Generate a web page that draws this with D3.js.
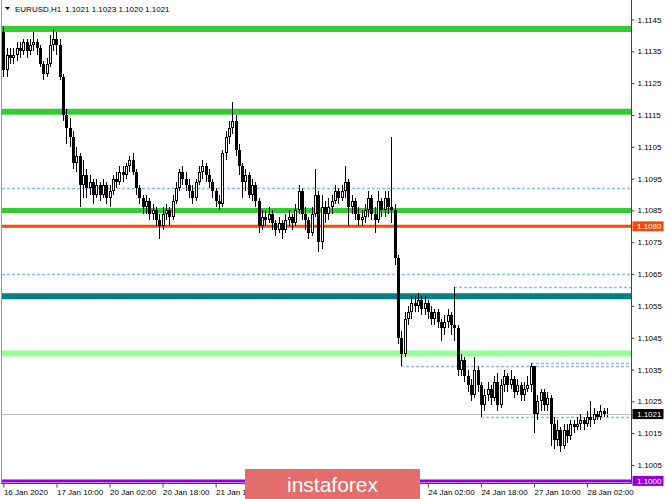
<!DOCTYPE html>
<html><head><meta charset="utf-8">
<script src="https://cdn.jsdelivr.net/npm/d3@7"></script>
<style>
body{margin:0;background:#fff}
svg{display:block}
text{font-family:"Liberation Sans",Arial,sans-serif}
</style>
</head><body><svg id="c" width="665" height="499"></svg>
<script>
const symbol = "EURUSD,H1";
const opens = [1.1141,1.1129,1.1134,1.1133,1.1134,1.1136,1.1135,1.1138,1.1135,1.1137,
1.1138,1.1136,1.1131,1.1128,1.1131,1.1137,1.1139,1.1137,1.1127,1.1115,
1.1111,1.1108,1.1100,1.1102,1.1093,1.1096,1.1092,1.1094,1.1090,1.1093,
1.1090,1.1093,1.1089,1.1091,1.1095,1.1094,1.1097,1.1096,1.1099,1.1101,
1.1097,1.1092,1.1089,1.1086,1.1088,1.1084,1.1085,1.1082,1.1080,1.1084,
1.1085,1.1083,1.1088,1.1092,1.1097,1.1095,1.1093,1.1091,1.1089,1.1094,
1.1097,1.1099,1.1096,1.1094,1.1091,1.1088,1.1087,1.1103,1.1108,1.1111,
1.1113,1.1104,1.1099,1.1094,1.1096,1.1090,1.1093,1.1088,1.1080,1.1083,
1.1082,1.1084,1.1081,1.1079,1.1081,1.1079,1.1082,1.1083,1.1081,1.1085,
1.1091,1.1084,1.1082,1.1078,1.1084,1.1090,1.1075,1.1086,1.1084,1.1086,
1.1088,1.1091,1.1089,1.1091,1.1094,1.1086,1.1088,1.1084,1.1082,1.1083,
1.1085,1.1089,1.1084,1.1082,1.1088,1.1085,1.1089,1.1086,1.1085,1.1070,
1.1045,1.1040,1.1051,1.1053,1.1056,1.1055,1.1057,1.1054,1.1056,1.1053,
1.1051,1.1053,1.1050,1.1048,1.1050,1.1052,1.1049,1.1048,1.1035,1.1038,
1.1033,1.1030,1.1027,1.1035,1.1030,1.1024,1.1027,1.1029,1.1026,1.1031,
1.1024,1.1030,1.1033,1.1030,1.1032,1.1028,1.1030,1.1027,1.1029,1.1030,
1.1036,1.1021,1.1025,1.1028,1.1024,1.1026,1.1018,1.1013,1.1016,1.1011,
1.1016,1.1014,1.1018,1.1017,1.1018,1.1019,1.1018,1.1020,1.1019,1.1021,
1.1020,1.1022,1.1021];
const highs = [1.1143,1.1136,1.1136,1.1136,1.1138,1.1138,1.1139,1.1139,1.1139,1.1141,
1.1139,1.1137,1.1132,1.1133,1.1140,1.1142,1.1141,1.1139,1.1128,1.1117,
1.1114,1.1110,1.1105,1.1103,1.1101,1.1098,1.1096,1.1095,1.1095,1.1094,
1.1095,1.1094,1.1093,1.1096,1.1097,1.1099,1.1099,1.1100,1.1102,1.1103,
1.1098,1.1093,1.1090,1.1090,1.1089,1.1087,1.1086,1.1084,1.1086,1.1087,
1.1086,1.1090,1.1094,1.1098,1.1099,1.1097,1.1095,1.1093,1.1095,1.1099,
1.1101,1.1100,1.1098,1.1095,1.1092,1.1090,1.1104,1.1110,1.1113,1.1119,
1.1115,1.1106,1.1100,1.1098,1.1097,1.1095,1.1094,1.1089,1.1085,1.1085,
1.1086,1.1085,1.1082,1.1083,1.1082,1.1084,1.1085,1.1084,1.1087,1.1093,
1.1092,1.1086,1.1083,1.1086,1.1098,1.1091,1.1090,1.1088,1.1089,1.1090,
1.1093,1.1092,1.1093,1.1099,1.1095,1.1090,1.1089,1.1086,1.1085,1.1087,
1.1091,1.1090,1.1086,1.1091,1.1089,1.1091,1.1091,1.1108,1.1087,1.1071,
1.1047,1.1053,1.1055,1.1058,1.1058,1.1059,1.1058,1.1058,1.1057,1.1055,
1.1054,1.1054,1.1051,1.1052,1.1054,1.1053,1.1061,1.1049,1.1040,1.1039,
1.1035,1.1032,1.1039,1.1036,1.1031,1.1029,1.1031,1.1030,1.1033,1.1034,
1.1032,1.1035,1.1034,1.1035,1.1033,1.1032,1.1031,1.1031,1.1033,1.1037,
1.1036,1.1027,1.1029,1.1029,1.1028,1.1027,1.1020,1.1019,1.1017,1.1018,
1.1018,1.1019,1.1019,1.1020,1.1021,1.1020,1.1022,1.1025,1.1023,1.1022,
1.1024,1.1023,1.1023];
const lows = [1.1127,1.1127,1.1131,1.1131,1.1132,1.1133,1.1134,1.1133,1.1134,1.1135,
1.1134,1.1130,1.1126,1.1127,1.1130,1.1135,1.1134,1.1126,1.1113,1.1106,
1.1105,1.1098,1.1097,1.1086,1.1089,1.1089,1.1090,1.1087,1.1089,1.1088,
1.1089,1.1087,1.1086,1.1090,1.1092,1.1093,1.1094,1.1095,1.1097,1.1096,
1.1090,1.1087,1.1084,1.1084,1.1082,1.1082,1.1080,1.1076,1.1079,1.1082,
1.1080,1.1082,1.1087,1.1091,1.1093,1.1091,1.1089,1.1087,1.1088,1.1093,
1.1095,1.1094,1.1092,1.1089,1.1086,1.1085,1.1086,1.1101,1.1106,1.1109,
1.1102,1.1096,1.1089,1.1091,1.1089,1.1088,1.1086,1.1078,1.1079,1.1080,
1.1081,1.1079,1.1077,1.1078,1.1076,1.1078,1.1080,1.1079,1.1080,1.1084,
1.1082,1.1079,1.1076,1.1077,1.1083,1.1072,1.1073,1.1081,1.1082,1.1084,
1.1087,1.1087,1.1088,1.1089,1.1080,1.1084,1.1082,1.1080,1.1080,1.1081,
1.1083,1.1082,1.1078,1.1081,1.1083,1.1083,1.1084,1.1081,1.1068,1.1043,
1.1036,1.1039,1.1049,1.1051,1.1053,1.1053,1.1052,1.1052,1.1051,1.1049,
1.1049,1.1048,1.1044,1.1046,1.1048,1.1046,1.1044,1.1033,1.1033,1.1031,
1.1028,1.1025,1.1026,1.1028,1.1020,1.1022,1.1025,1.1024,1.1025,1.1022,
1.1023,1.1028,1.1028,1.1029,1.1026,1.1027,1.1025,1.1025,1.1028,1.1028,
1.1015,1.1019,1.1022,1.1022,1.1022,1.1011,1.1010,1.1011,1.1009,1.1010,
1.1012,1.1013,1.1015,1.1016,1.1016,1.1016,1.1017,1.1017,1.1018,1.1019,
1.1019,1.1020,1.1020];
const closes = [1.1129,1.1134,1.1133,1.1134,1.1136,1.1135,1.1138,1.1135,1.1137,1.1138,
1.1136,1.1131,1.1128,1.1131,1.1137,1.1139,1.1137,1.1127,1.1115,1.1111,
1.1108,1.1100,1.1102,1.1093,1.1096,1.1092,1.1094,1.1090,1.1093,1.1090,
1.1093,1.1089,1.1091,1.1095,1.1094,1.1097,1.1096,1.1099,1.1101,1.1097,
1.1092,1.1089,1.1086,1.1088,1.1084,1.1085,1.1082,1.1080,1.1084,1.1085,
1.1083,1.1088,1.1092,1.1097,1.1095,1.1093,1.1091,1.1089,1.1094,1.1097,
1.1099,1.1096,1.1094,1.1091,1.1088,1.1087,1.1103,1.1108,1.1111,1.1113,
1.1104,1.1099,1.1094,1.1096,1.1090,1.1093,1.1088,1.1080,1.1083,1.1082,
1.1084,1.1081,1.1079,1.1081,1.1079,1.1082,1.1083,1.1081,1.1085,1.1091,
1.1084,1.1082,1.1078,1.1084,1.1090,1.1075,1.1086,1.1084,1.1086,1.1088,
1.1091,1.1089,1.1091,1.1094,1.1086,1.1088,1.1084,1.1082,1.1083,1.1085,
1.1089,1.1084,1.1082,1.1088,1.1085,1.1089,1.1086,1.1085,1.1070,1.1045,
1.1040,1.1051,1.1053,1.1056,1.1055,1.1057,1.1054,1.1056,1.1053,1.1051,
1.1053,1.1050,1.1048,1.1050,1.1052,1.1049,1.1048,1.1035,1.1038,1.1033,
1.1030,1.1027,1.1035,1.1030,1.1024,1.1027,1.1029,1.1026,1.1031,1.1024,
1.1030,1.1033,1.1030,1.1032,1.1028,1.1030,1.1027,1.1029,1.1030,1.1036,
1.1021,1.1025,1.1028,1.1024,1.1026,1.1018,1.1013,1.1016,1.1011,1.1016,
1.1014,1.1018,1.1017,1.1018,1.1019,1.1018,1.1020,1.1019,1.1021,1.1020,
1.1022,1.1021,1.1021];

const xTickIndex = [0,16,32,48,64,80,96,112,128,144,160,176];
const xTickLabels = ["16 Jan 2020","17 Jan 10:00","20 Jan 02:00","20 Jan 18:00","21 Jan 10:00","22 Jan 02:00","22 Jan 18:00","23 Jan 10:00","24 Jan 02:00","24 Jan 18:00","27 Jan 10:00","28 Jan 02:00"];
const yTickValues = [1.1005,1.1015,1.1025,1.1035,1.1045,1.1055,1.1065,1.1075,1.1085,1.1095,1.1105,1.1115,1.1125,1.1135,1.1145];

// solid level lines
const levelNames = ["green1","green2","green3","resist","teal","palegreen","round"];
const levelPrices = [1.1142,1.1116,1.1085,1.1080,1.1058,1.1040,1.1000];
// dashed level lines and the bar where each starts
const dashPrices = [1.1092,1.1065,1.1061,1.1037,1.1036,1.1020];
const dashStartBar = [0,0,136,159,120,144];
const bidPrice = 1.1021;
const axisLabelPrices = [1.1080,1.1021,1.1000];
const logoText = "instaforex";

const W = 665, H = 499;
const plotL = 2, plotR = 631, plotB = 483;
const logo = {x:245, y:469, w:175, h:30};
const svg = d3.select("#c");
svg.append("rect").attr("width",W).attr("height",H).attr("fill","#fff");

const x = d3.scaleLinear().domain([0,176]).range([3.4,587]);
const y = d3.scaleLinear().domain([1.1000,1.1145]).range([480.9,19.5]);

const defs = svg.append("defs");
defs.append("clipPath").attr("id","pc")
  .append("rect").attr("x",plotL).attr("y",0).attr("width",plotR-plotL).attr("height",plotB);
const lc = defs.append("clipPath").attr("id","lc");
lc.append("rect").attr("x",0).attr("y",-600).attr("width",logo.x).attr("height",1200);
lc.append("rect").attr("x",logo.x+logo.w).attr("y",-600).attr("width",W-logo.x-logo.w).attr("height",1200);

const plot = svg.append("g").attr("clip-path","url(#pc)");

const levelStyle = {
  green1:{c:"#33cc33",w:6}, green2:{c:"#33cc33",w:6}, green3:{c:"#33cc33",w:5},
  resist:{c:"#ff4500",w:3}, teal:{c:"#008080",w:6}, palegreen:{c:"#98fb98",w:6},
  round:{c:"#9400d3",w:3}
};

// dashed lines
plot.selectAll("line.dash").data(dashPrices).join("line")
  .attr("class","dash")
  .attr("x1",(d,i)=> dashStartBar[i]===0 ? plotL : Math.round(x(dashStartBar[i])))
  .attr("x2",plotR)
  .attr("y1",d=>Math.round(y(d))+0.5).attr("y2",d=>Math.round(y(d))+0.5)
  .attr("stroke","#86bdf3").attr("stroke-width",1.4).attr("stroke-dasharray","3,2");

// bid line
plot.append("line").attr("x1",plotL).attr("x2",plotR)
  .attr("y1",Math.round(y(bidPrice))+0.5).attr("y2",Math.round(y(bidPrice))+0.5)
  .attr("stroke","#c0c0c0").attr("stroke-width",1);

// solid levels
plot.selectAll("line.lvl").data(levelPrices).join("line")
  .attr("class","lvl")
  .attr("x1",plotL).attr("x2",plotR)
  .attr("y1",d=>y(d)).attr("y2",d=>y(d))
  .attr("stroke",(d,i)=>levelStyle[levelNames[i]].c)
  .attr("stroke-width",(d,i)=>levelStyle[levelNames[i]].w);

// candles
const candles = plot.append("g").attr("shape-rendering","crispEdges");
closes.forEach((c,i)=>{
  const o = opens[i], hi = highs[i], lo = lows[i];
  const cx = Math.round(x(i)) + 0.5;
  const top = Math.round(y(Math.max(o,c)));
  const bot = Math.max(Math.round(y(Math.min(o,c))), top+1);
  const yh = Math.round(y(hi)), yl = Math.round(y(lo));
  if (yh < top) candles.append("line").attr("x1",cx).attr("x2",cx).attr("y1",yh).attr("y2",top).attr("stroke","#000");
  if (yl > bot) candles.append("line").attr("x1",cx).attr("x2",cx).attr("y1",bot).attr("y2",yl).attr("stroke","#000");
  if (c >= o) {
    candles.append("rect").attr("x",cx-1).attr("y",top+0.5).attr("width",2).attr("height",Math.max(bot-top-1,0))
      .attr("fill","#fff").attr("stroke","#000").attr("stroke-width",1);
  } else {
    candles.append("rect").attr("x",cx-1.5).attr("y",top).attr("width",3).attr("height",bot-top)
      .attr("fill","#000");
  }
});

// frame
svg.append("line").attr("x1",1.5).attr("x2",1.5).attr("y1",0).attr("y2",plotB).attr("stroke","#999");
svg.append("line").attr("x1",plotR+0.5).attr("x2",plotR+0.5).attr("y1",0).attr("y2",plotB+0.5).attr("stroke","#444");
svg.append("line").attr("x1",1).attr("x2",plotR+0.5).attr("y1",plotB+0.5).attr("y2",plotB+0.5).attr("stroke","#444");

// right axis
const ya = svg.append("g").attr("transform",`translate(${plotR+0.5},0)`)
  .call(d3.axisRight(y).tickValues(yTickValues).tickSize(3).tickPadding(3).tickFormat(d3.format(".4f")));
ya.select(".domain").remove();
ya.selectAll("line").attr("stroke","#444");
ya.selectAll("text").attr("font-size",8).attr("fill","#000").attr("font-family","Liberation Sans, Arial, sans-serif");

// bottom axis: labels fully covered by the logo are not shown, the one it cuts is clipped
const visibleTicks = xTickIndex.filter(i => x(i) < logo.x - 20 || x(i) > logo.x + logo.w);
const xa = svg.append("g").attr("clip-path","url(#lc)")
  .append("g").attr("transform",`translate(0,${plotB+0.5})`)
  .call(d3.axisBottom(x).tickValues(visibleTicks).tickSize(4)
    .tickFormat(d => xTickLabels[xTickIndex.indexOf(d)]));
xa.select(".domain").remove();
xa.selectAll("line").attr("stroke","#444");
xa.selectAll("text").attr("font-size",8).attr("fill","#000").attr("text-anchor","start")
  .attr("dx",0).attr("dy","0.55em").attr("font-family","Liberation Sans, Arial, sans-serif");

// highlighted price labels
const hlColors = ["#ff4500","#000000","#9400d3"];
const hl = svg.append("g");
axisLabelPrices.forEach((p,i)=>{
  const yy = y(p);
  hl.append("rect").attr("x",plotR+1.5).attr("y",yy-5).attr("width",31).attr("height",10).attr("fill",hlColors[i]);
  hl.append("text").attr("x",plotR+6).attr("y",yy+3).attr("font-size",8).attr("fill","#fff").text(d3.format(".4f")(p));
});

// header
const last = closes.length-1;
svg.append("path").attr("d","M5,7 L10,7 L7.5,10 Z").attr("fill","#000");
svg.append("text").attr("x",15).attr("y",12).attr("font-size",8).attr("fill","#000").text(symbol);
svg.append("text").attr("x",65).attr("y",12).attr("font-size",8).attr("fill","#000")
  .text([opens[last],highs[last],lows[last],closes[last]].map(d3.format(".4f")).join(" "));

// watermark
const wm = svg.append("g");
wm.append("rect").attr("x",logo.x).attr("y",logo.y).attr("width",logo.w).attr("height",logo.h).attr("fill","#e36c6c");
wm.append("text").attr("x",logo.x+logo.w/2).attr("y",492).attr("text-anchor","middle").attr("font-size",21)
  .attr("font-family","Open Sans, Lato, sans-serif").attr("fill","#fff").text(logoText);
</script>
</body></html>
